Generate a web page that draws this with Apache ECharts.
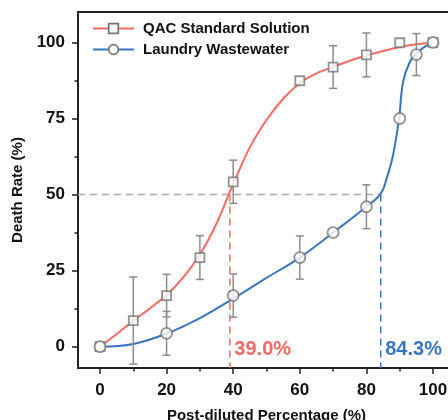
<!DOCTYPE html>
<html>
<head>
<meta charset="utf-8">
<script src="https://cdn.jsdelivr.net/npm/echarts@6/dist/echarts.min.js"></script>
<style>
  html, body { margin: 0; padding: 0; background: #fff; }
  #chart { width: 448px; height: 420px; }
</style>
</head>
<body>
<div id="chart"></div>
<script>
// measured points (mean, error bar half width)
const qacX = [0, 10, 20, 30, 40, 60, 70, 80, 90, 100];
const qacY = [0, 8.6, 16.8, 29.3, 54.2, 87.4, 91.9, 95.9, 99.9, 100];
const qacErr = [0, 14.3, 7.0, 7.2, 7.1, 0, 7.0, 7.2, 0, 0];
const lwX = [0, 20, 40, 60, 70, 80, 90, 95, 100];
const lwY = [0, 4.4, 16.8, 29.3, 37.5, 46.0, 75.0, 96.0, 100];
const lwErr = [0, 7.2, 7.1, 7.1, 0, 7.2, 0, 6.9, 0];

// fitted curves
const qacFitX = [0, 5, 10, 15, 20, 25, 30, 35, 40, 45, 50, 55, 60, 65, 70, 75, 80, 85, 90, 95, 100];
const qacFitY = [0, 4.2, 8.5, 12.6, 17.0, 22.8, 30.3, 40.5, 53.5, 65.5, 74.5, 81.5, 86.6, 89.8, 92.0, 94.0, 95.7, 97.2, 98.5, 99.4, 100];
const lwFitX = [0, 10, 20, 30, 40, 50, 60, 70, 80, 84.3, 86, 88, 89.8, 91, 93, 95, 97, 100];
const lwFitY = [0, 0.9, 4.3, 9.4, 15.8, 22.6, 29.3, 37.5, 46, 50.3, 55, 63, 75, 87, 93.5, 96.2, 98.2, 100];

// half lethal values
const halfY = 50;
const halfX = [39.0, 84.3];

const xTicks = [0, 20, 40, 60, 80, 100];
const xMinor = [10, 30, 50, 70, 90];
const yTicks = [0, 25, 50, 75, 100];
const yMinor = [12.5, 37.5, 62.5, 87.5];
const xMin = -6.6, xMax = 106.6, yMin = -7, yMax = 110;

const RED = "#F36B62";
const BLUE = "#3A76C0";
const MARK = "#777777";
const ERR = "#8c8c8c";
const FONT = "Liberation Sans, Arial, sans-serif";
const NAMES = ["QAC Standard Solution", "Laundry Wastewater"];
const labelY = -1;

const zip = (xs, ys) => xs.map((x, i) => [x, ys[i]]);

const errorBars = (xs, ys, es) => ({
  type: "custom",
  silent: true,
  z: 3,
  data: xs.map((x, i) => [x, ys[i] - es[i], ys[i] + es[i]]).filter((d, i) => es[i] > 0),
  renderItem: (params, api) => {
    const lo = api.coord([api.value(0), api.value(1)]);
    const hi = api.coord([api.value(0), api.value(2)]);
    const w = 4;
    const style = { stroke: ERR, lineWidth: 1.5 };
    return {
      type: "group",
      children: [
        { type: "line", shape: { x1: lo[0], y1: lo[1], x2: hi[0], y2: hi[1] }, style },
        { type: "line", shape: { x1: lo[0] - w, y1: lo[1], x2: lo[0] + w, y2: lo[1] }, style },
        { type: "line", shape: { x1: hi[0] - w, y1: hi[1], x2: hi[0] + w, y2: hi[1] }, style },
      ],
    };
  },
});

const dashed = (data, color) => ({
  type: "line",
  data,
  symbol: "none",
  silent: true,
  z: 1,
  lineStyle: { color, width: 1.5, type: [7, 5] },
});

const chart = echarts.init(document.getElementById("chart"));

const minorX = (values) => ({
  type: "value", min: xMin, max: xMax, position: "bottom",
  axisLine: { show: false, onZero: false },
  axisTick: { customValues: values, length: 3.5, lineStyle: { color: "#222", width: 1.5 } },
  axisLabel: { show: false },
  splitLine: { show: false },
});
const minorY = (values) => ({
  type: "value", min: yMin, max: yMax, position: "left",
  axisLine: { show: false, onZero: false },
  axisTick: { customValues: values, length: 3.5, lineStyle: { color: "#222", width: 1.5 } },
  axisLabel: { show: false },
  splitLine: { show: false },
});

chart.setOption({
  animation: false,
  grid: {
    left: 78, right: -7, top: 12, bottom: 52,
    show: true, borderColor: "#222", borderWidth: 2,
    outerBoundsMode: "none",
  },
  legend: {
    orient: "vertical",
    left: 87,
    top: 16,
    itemWidth: 41,
    itemHeight: 12,
    itemGap: 6,
    selectedMode: false,
    textStyle: { fontSize: 15, fontWeight: "bold", color: "#111", fontFamily: FONT, padding: [0, 0, 0, 4] },
    data: NAMES.map((n) => ({
      name: n,
      itemStyle: { color: "#fff", borderColor: MARK, borderWidth: 1.8 },
    })),
  },
  xAxis: [
    {
      type: "value", min: xMin, max: xMax, position: "bottom",
      axisLine: { onZero: false, lineStyle: { color: "#222", width: 2 } },
      axisTick: { customValues: xTicks, length: 6, lineStyle: { color: "#222", width: 1.5 } },
      axisLabel: { customValues: xTicks, fontSize: 17, fontWeight: "bold", color: "#111", fontFamily: FONT, margin: 14 },
      splitLine: { show: false },
      name: "Post-diluted Percentage (%)",
      nameLocation: "middle",
      nameGap: 40,
      nameTextStyle: { fontSize: 15, fontWeight: "bold", color: "#111", fontFamily: FONT },
    },
    minorX(xMinor),
  ],
  yAxis: [
    {
      type: "value", min: yMin, max: yMax, position: "left",
      axisLine: { onZero: false, lineStyle: { color: "#222", width: 2 } },
      axisTick: { customValues: yTicks, length: 6, lineStyle: { color: "#222", width: 1.5 } },
      axisLabel: { customValues: yTicks, fontSize: 17, fontWeight: "bold", color: "#111", fontFamily: FONT, margin: 13 },
      splitLine: { show: false },
      name: "Death Rate (%)",
      nameLocation: "middle",
      nameGap: 49,
      nameTextStyle: { fontSize: 15, fontWeight: "bold", color: "#111", fontFamily: FONT },
    },
    minorY(yMinor),
  ],
  series: [
    dashed([[xMin, halfY], [halfX[1], halfY]], "#aaaaaa"),
    dashed([[halfX[0], halfY], [halfX[0], yMin]], RED),
    dashed([[halfX[1], halfY], [halfX[1], yMin]], BLUE),
    {
      name: NAMES[0], type: "line", data: zip(qacFitX, qacFitY),
      smooth: 0.3, showSymbol: false, symbol: "rect", z: 2,
      itemStyle: { color: RED }, lineStyle: { color: RED, width: 2 },
    },
    {
      name: NAMES[1], type: "line", data: zip(lwFitX, lwFitY),
      smooth: 0.4, showSymbol: false, symbol: "circle", z: 2,
      itemStyle: { color: BLUE }, lineStyle: { color: BLUE, width: 2 },
    },
    errorBars(qacX, qacY, qacErr),
    errorBars(lwX, lwY, lwErr),
    {
      name: "qacPts", type: "scatter", data: zip(qacX, qacY), symbol: "rect", symbolSize: 9, z: 4,
      itemStyle: { color: "#fff", borderColor: MARK, borderWidth: 1.8 },
    },
    {
      name: "lwPts", type: "scatter", data: zip(lwX, lwY), symbol: "circle", symbolSize: 11, z: 4,
      itemStyle: { color: "#fff", borderColor: MARK, borderWidth: 1.8 },
    },
    {
      name: "halfLabels", type: "scatter", symbolSize: 1, silent: true, z: 5,
      itemStyle: { color: "rgba(0,0,0,0)" },
      data: halfX.map((x, i) => ({
        value: [x, labelY],
        label: { color: i === 0 ? RED : BLUE },
      })),
      label: {
        show: true, position: "right", distance: 4, opacity: 1,
        fontSize: 20, fontWeight: "bold", fontFamily: FONT,
        formatter: (p) => p.value[0].toFixed(1) + "%",
      },
    },
  ],
});
</script>
</body>
</html>
